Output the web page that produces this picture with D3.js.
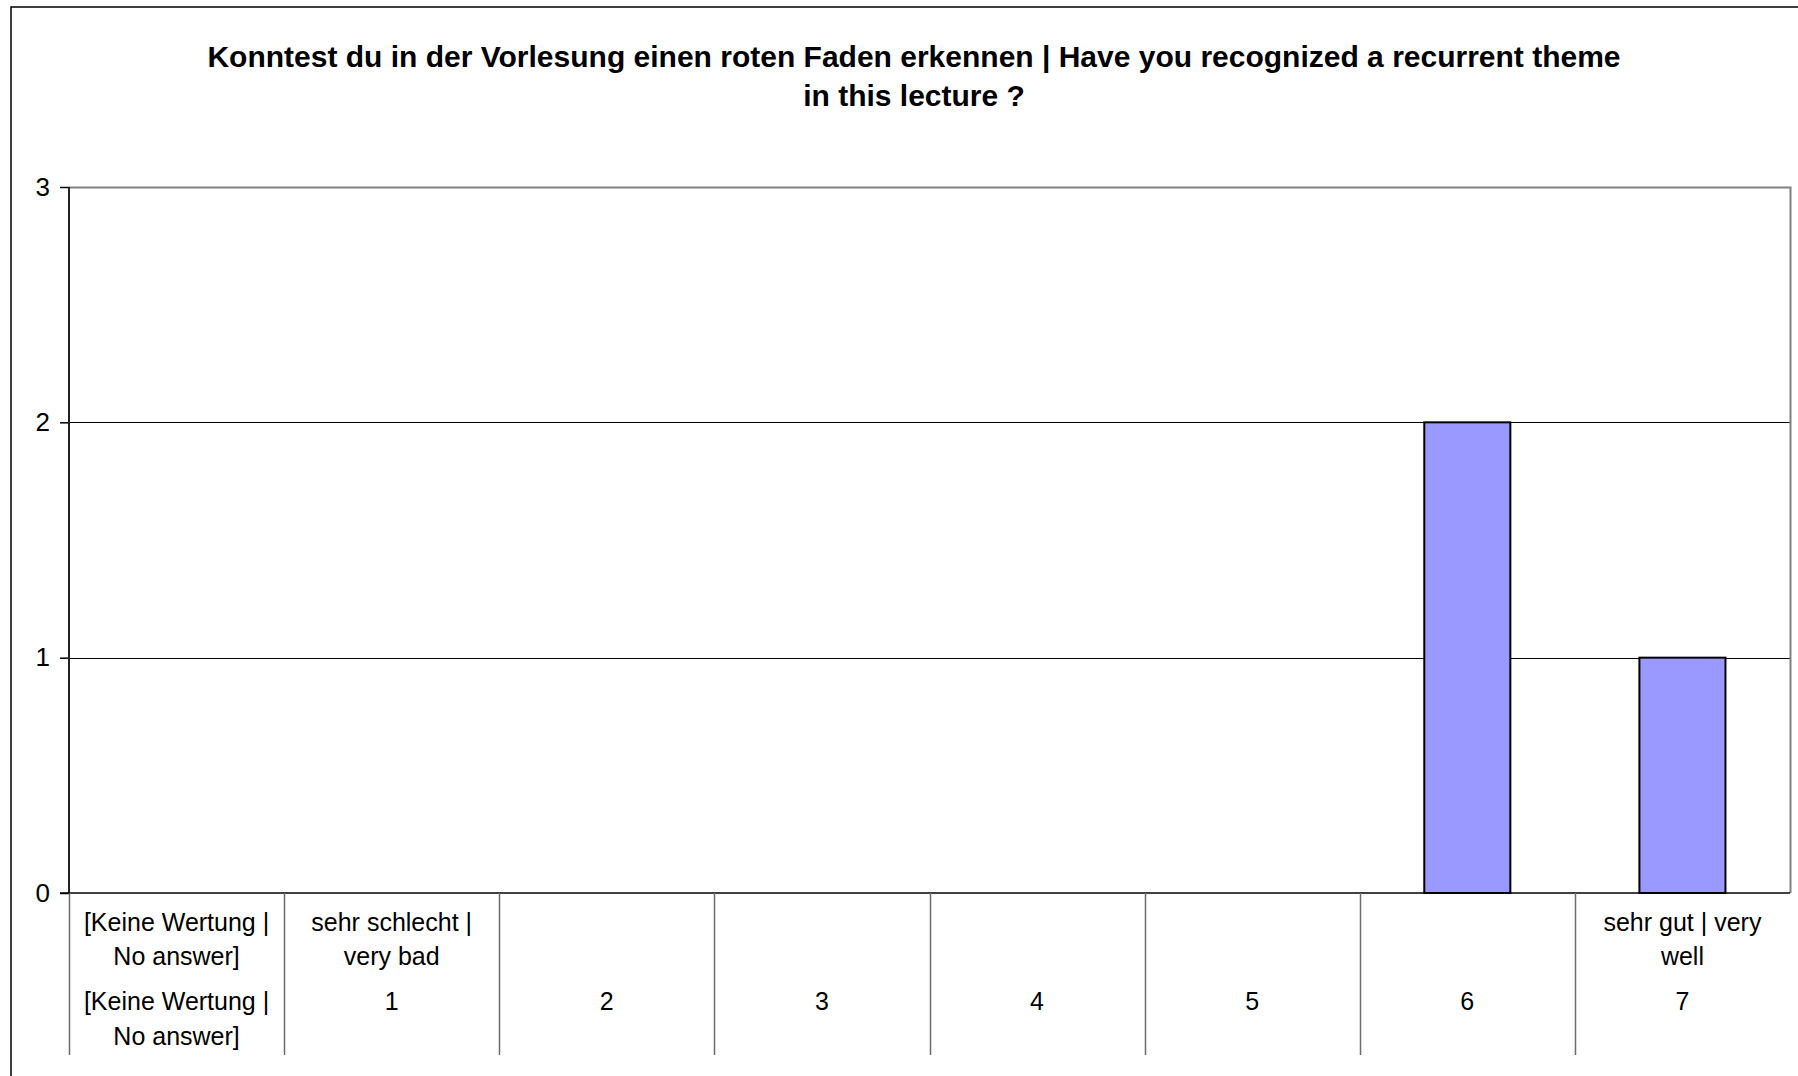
<!DOCTYPE html>
<html>
<head>
<meta charset="utf-8">
<script src="https://cdn.jsdelivr.net/npm/d3@7"></script>
<style>
  html, body { margin: 0; padding: 0; background: #fff; overflow: hidden; }
  svg { display: block; font-family: "Liberation Sans", Arial, sans-serif; }
</style>
</head>
<body>
<svg id="chart" width="1798" height="1076"></svg>
<script>
// ---- data ----
const titleLines = [
  "Konntest du in der Vorlesung einen roten Faden erkennen | Have you recognized a recurrent theme",
  "in this lecture ?"
];
const categories = ["NA", "1", "2", "3", "4", "5", "6", "7"];
const labelRow1 = [["[Keine Wertung |", "No answer]"], ["sehr schlecht |", "very bad"], [], [], [], [], [], ["sehr gut | very", "well"]];
const labelRow2 = [["[Keine Wertung |", "No answer]"], ["1"], ["2"], ["3"], ["4"], ["5"], ["6"], ["7"]];
const values = [0, 0, 0, 0, 0, 0, 2, 1];
const yTicks = [0, 1, 2, 3];

// ---- layout ----
const svg = d3.select("#chart");
const plot = { left: 69, right: 1790, top: 187, bottom: 893 };

const x = d3.scaleBand().domain(categories).range([plot.left, plot.right]).padding(0);
const y = d3.scaleLinear().domain([0, 3]).range([plot.bottom, plot.top]);

// outer border
svg.append("rect")
  .attr("x", 11).attr("y", 7).attr("width", 1800).attr("height", 1100)
  .attr("fill", "#fff").attr("stroke", "#000").attr("stroke-width", 1.5);

// title
svg.append("g").selectAll("text").data(titleLines).join("text")
  .attr("x", 914).attr("y", (d, i) => 67 + i * 39)
  .attr("text-anchor", "middle")
  .attr("font-weight", "bold").attr("font-size", 30)
  .attr("fill", "#000")
  .text(d => d);

// gridlines
svg.append("g").selectAll("line").data(yTicks.filter(t => t > 0 && t < 3)).join("line")
  .attr("x1", plot.left).attr("x2", plot.right)
  .attr("y1", d => Math.round(y(d)) + 0.5).attr("y2", d => Math.round(y(d)) + 0.5)
  .attr("stroke", "#000").attr("stroke-width", 1.2);

// plot border top/right (gray)
svg.append("path")
  .attr("d", `M${plot.left},${y(3) + 0.5} H${plot.right + 0.5} V${plot.bottom}`)
  .attr("fill", "none").attr("stroke", "#808080").attr("stroke-width", 2);

// bars
const bw = x.bandwidth();
svg.append("g").selectAll("rect").data(categories.map((c, i) => ({ c, v: values[i] })).filter(d => d.v > 0)).join("rect")
  .attr("x", d => x(d.c) + bw * 0.3)
  .attr("y", d => y(d.v))
  .attr("width", bw * 0.4)
  .attr("height", d => y(0) - y(d.v))
  .attr("fill", "#9999FF").attr("stroke", "#000").attr("stroke-width", 2);

// y axis
const yAxis = d3.axisLeft(y).tickValues(yTicks).tickSize(9).tickPadding(10).tickFormat(d3.format("d"));
const ya = svg.append("g").attr("transform", `translate(${plot.left},0)`).call(yAxis);
ya.select(".domain").remove();
ya.selectAll(".tick line").attr("stroke", "#000").attr("stroke-width", 1.5);
ya.selectAll(".tick text").attr("font-size", 26).attr("fill", "#000").attr("font-family", "Liberation Sans, Arial, sans-serif");

// left axis line
svg.append("line")
  .attr("x1", plot.left).attr("x2", plot.left)
  .attr("y1", plot.top).attr("y2", plot.bottom)
  .attr("stroke", "#222").attr("stroke-width", 2);

// zero line
svg.append("line")
  .attr("x1", plot.left - 9).attr("x2", plot.right)
  .attr("y1", y(0)).attr("y2", y(0))
  .attr("stroke", "#000").attr("stroke-width", 1.5);

// category dividers
svg.append("g").selectAll("line").data(categories).join("line")
  .attr("x1", d => Math.round(x(d)) + 0.5).attr("x2", d => Math.round(x(d)) + 0.5)
  .attr("y1", plot.bottom).attr("y2", 1055)
  .attr("stroke", "#6b6b6b").attr("stroke-width", 1.5);

// category labels
function drawRow(rows, startY, gap) {
  const g = svg.append("g");
  categories.forEach((c, i) => {
    rows[i].forEach((line, j) => {
      g.append("text")
        .attr("x", x(c) + bw / 2)
        .attr("y", startY + j * gap)
        .attr("text-anchor", "middle")
        .attr("font-size", 25).attr("fill", "#000")
        .text(line);
    });
  });
}
drawRow(labelRow1, 931, 34);
drawRow(labelRow2, 1010, 35);
</script>
</body>
</html>
